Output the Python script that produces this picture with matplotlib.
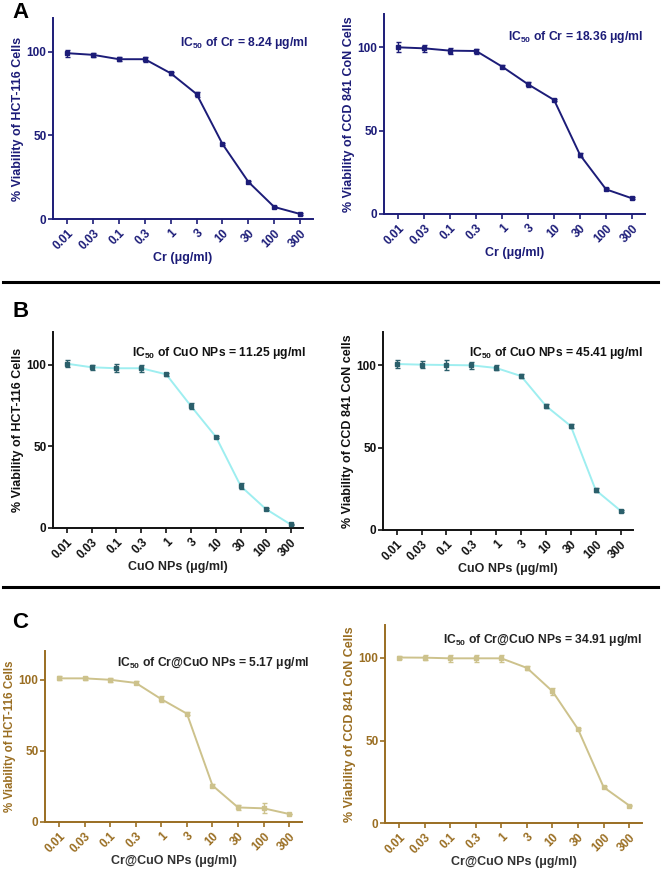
import matplotlib
matplotlib.use("Agg")
import matplotlib.pyplot as plt
from matplotlib.lines import Line2D

plt.rcParams['font.family'] = ['Liberation Sans', 'DejaVu Sans']
plt.rcParams['font.weight'] = 'bold'
plt.rcParams['mathtext.fontset'] = 'custom'
plt.rcParams['mathtext.rm'] = 'Liberation Sans:bold'
plt.rcParams['mathtext.bf'] = 'Liberation Sans:bold'

# doses, shared by every panel
doses = ["0.01", "0.03", "0.1", "0.3", "1", "3", "10", "30", "100", "300"]

# A - Cr
cr_hct = [99.0, 98.0, 95.4, 95.4, 87.0, 74.6, 44.8, 22.2, 7.2, 3.0]
cr_hct_err = [2.0, 1.0, 1.2, 1.5, 1.0, 1.5, 0.5, 0.5, 0.8, 0.5]
cr_ccd = [100.0, 99.4, 98.0, 97.8, 88.4, 77.8, 68.4, 35.4, 14.8, 9.4]
cr_ccd_err = [3.0, 2.0, 1.8, 1.5, 1.0, 1.5, 0.8, 1.2, 0.6, 0.6]

# B - CuO NPs
cuo_hct = [100.6, 98.4, 97.8, 97.8, 94.1, 74.6, 55.8, 25.6, 11.7, 2.2]
cuo_hct_err = [2.0, 1.5, 2.5, 2.0, 1.0, 2.0, 0.5, 2.0, 0.8, 0.4]
cuo_ccd = [100.6, 100.2, 100.0, 99.8, 98.2, 93.3, 75.2, 63.0, 24.2, 11.7]
cuo_ccd_err = [2.5, 2.0, 3.0, 2.0, 1.5, 1.0, 1.0, 1.0, 1.0, 0.5]

# C - Cr@CuO NPs
crcuo_hct = [100.8, 100.8, 99.8, 97.6, 86.2, 76.0, 25.6, 10.2, 9.6, 5.6]
crcuo_hct_err = [1.5, 1.2, 1.5, 1.0, 2.0, 1.0, 1.0, 1.5, 3.5, 0.3]
crcuo_ccd = [100.3, 100.2, 99.8, 99.8, 99.8, 94.0, 79.8, 56.8, 21.7, 10.6]
crcuo_ccd_err = [1.0, 1.5, 2.0, 2.0, 2.0, 1.2, 2.0, 0.5, 0.5, 0.5]

navy = "#1c1c78"
cyan = "#9eeef0"
teal = "#2b5f6b"
khaki = "#cdc28c"
brown = "#9a6e22"

W, H = 661, 877
fig = plt.figure(figsize=(W / 100, H / 100), dpi=100)


def px_axes(x0, x1, ytop, ybot):
    return fig.add_axes([x0 / W, 1 - ybot / H, (x1 - x0) / W, (ybot - ytop) / H])


def panel(rect, vals, errs, line_c, err_c, axis_c, text_c, lab_c, ic_c, ylabel, xlabel, ic50, ic_pos, ysize=9):
    ax = px_axes(*rect)
    x = list(range(len(doses)))
    ax.plot(x, vals, color=line_c, lw=1.4, zorder=2)
    ax.errorbar(x, vals, yerr=errs, fmt="s", ms=2.2, color=err_c, ecolor=err_c,
                elinewidth=1.0, capsize=1.8, capthick=1.0, zorder=3)
    ax.set_xlim(-0.55, 9.5)
    ax.set_ylim(0, 120)
    ax.set_yticks([0, 50, 100])
    ax.set_xticks(x)
    ax.set_xticklabels(doses, rotation=45, ha="right", rotation_mode="anchor")
    for s in ["top", "right"]:
        ax.spines[s].set_visible(False)
    for s in ["left", "bottom"]:
        ax.spines[s].set_color(axis_c)
        ax.spines[s].set_linewidth(1.4)
    ax.tick_params(axis="both", colors=axis_c, width=1.2, length=3.5, labelsize=8.5)
    ax.tick_params(axis="x", pad=2.5)
    ax.tick_params(axis="y", pad=1.2)
    for t in ax.get_xticklabels() + ax.get_yticklabels():
        t.set_color(text_c)
        t.set_fontweight("bold")
    ax.set_ylabel(ylabel, fontsize=ysize, fontweight="bold", color=text_c, labelpad=2)
    ax.set_xlabel(xlabel, fontsize=9, fontweight="bold", color=lab_c, labelpad=0)
    ax.text(ic_pos[0], ic_pos[1], ic50, transform=ax.transAxes, ha="right", va="center",
            fontsize=8.7, fontweight="bold", color=ic_c)
    return ax


panel((53, 313, 18, 219), cr_hct, cr_hct_err, navy, navy, navy, navy, navy, navy,
      "% Viability of HCT-116 Cells", "Cr (μg/ml)",
      r"IC$_{50}$ of Cr = 8.24 μg/ml", (0.98, 0.876))
panel((384, 645, 14, 214), cr_ccd, cr_ccd_err, navy, navy, navy, navy, navy, navy,
      "% Viability of CCD 841 CoN Cells", "Cr (μg/ml)",
      r"IC$_{50}$ of Cr = 18.36 μg/ml", (0.99, 0.883))
panel((53, 303, 332, 528), cuo_hct, cuo_hct_err, cyan, teal, "#111111", "#111111", "#222222", "#111111",
      "% Viability of HCT-116 Cells", "CuO NPs (μg/ml)",
      r"IC$_{50}$ of CuO NPs = 11.25 μg/ml", (1.01, 0.893))
panel((383, 633, 332, 530), cuo_ccd, cuo_ccd_err, cyan, teal, "#111111", "#111111", "#222222", "#111111",
      "% Viability of CCD 841 CoN cells", "CuO NPs (μg/ml)",
      r"IC$_{50}$ of CuO NPs = 45.41 μg/ml", (1.04, 0.893))
panel((45, 302, 651, 822), crcuo_hct, crcuo_hct_err, khaki, khaki, brown, brown, "#333333", "#222222",
      "% Viability of HCT-116 Cells", "Cr@CuO NPs (μg/ml)",
      r"IC$_{50}$ of Cr@CuO NPs = 5.17 μg/ml", (1.03, 0.93), ysize=8.3)
panel((385, 642, 625, 823), crcuo_ccd, crcuo_ccd_err, khaki, khaki, brown, brown, "#333333", "#222222",
      "% Viability of CCD 841 CoN Cells", "Cr@CuO NPs (μg/ml)",
      r"IC$_{50}$ of Cr@CuO NPs = 34.91 μg/ml", (1.0, 0.924))

# separators between rows
for ysep in (282, 587):
    fig.add_artist(Line2D([3 / W, 658 / W], [1 - ysep / H] * 2, color="black", lw=2.2))

# panel letters
for letter, ytop in (("A", 2), ("B", 301), ("C", 612)):
    fig.text(12 / W, 1 - ytop / H, letter, fontsize=16, fontweight="bold", va="top", ha="left")

fig.savefig("out.png", dpi=100)
